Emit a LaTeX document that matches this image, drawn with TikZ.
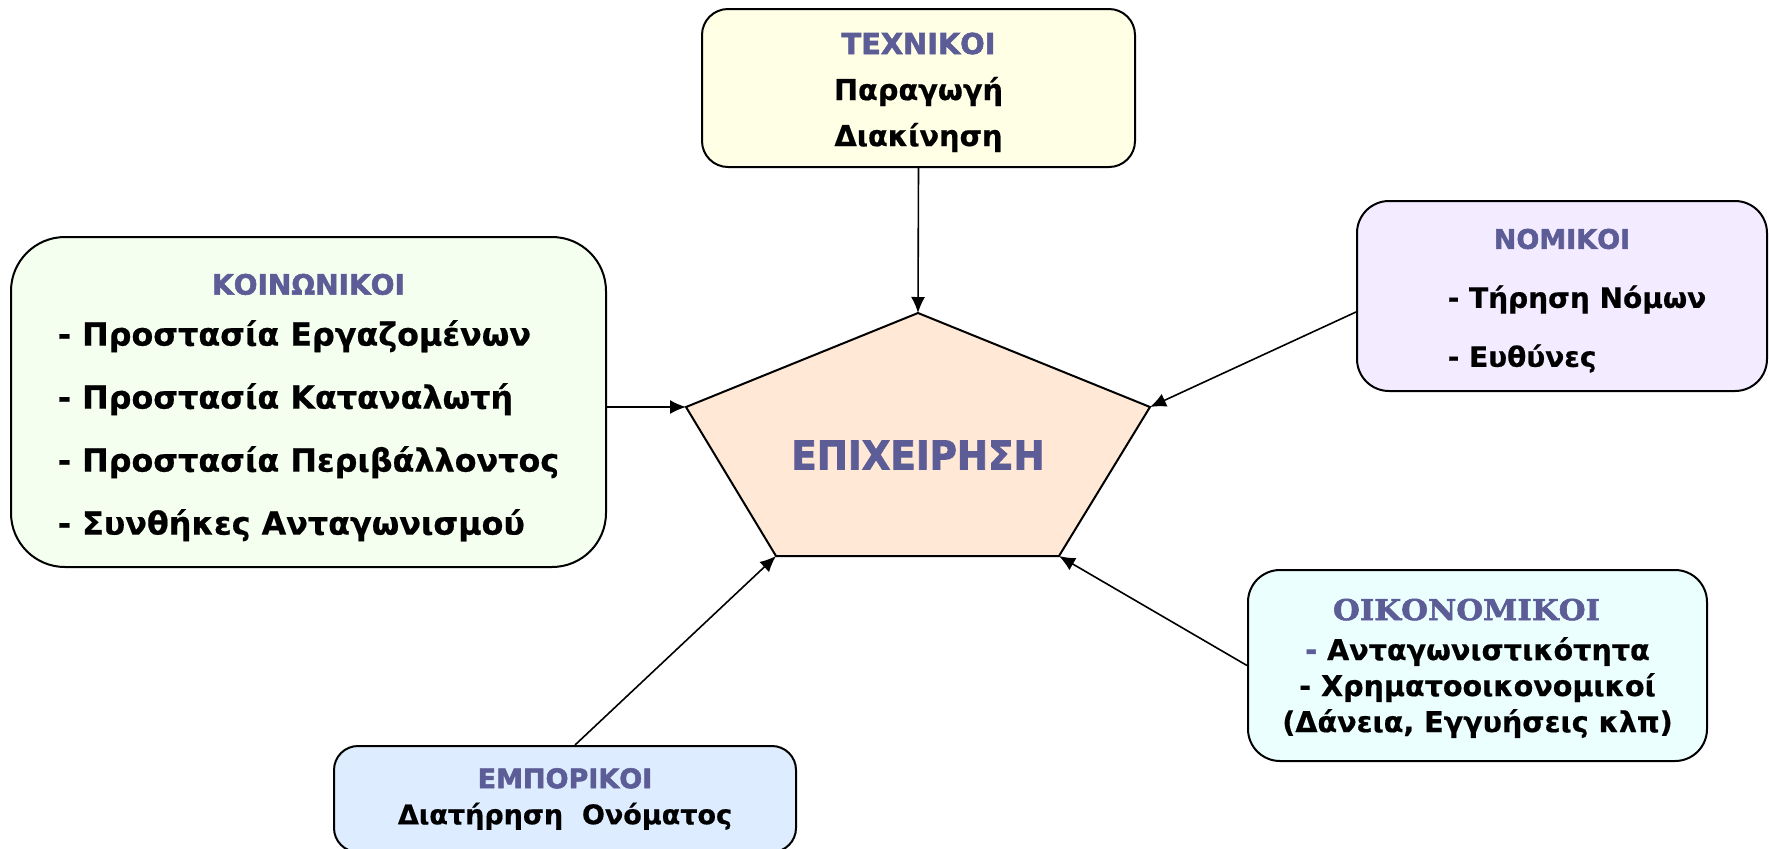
\documentclass[tikz,border=0pt]{standalone}
\usepackage{fontspec}
\setmainfont{DejaVu Sans}[BoldFeatures={FakeBold=0.6}]
\newfontface\headfont[FakeBold=2]{DejaVu Sans Bold}
\newfontface\firmfont[FakeBold=2, FakeStretch=0.93]{DejaVu Sans Bold}
\newfontface\headserif[FakeStretch=1.08, FakeBold=2]{DejaVu Serif Bold}
\usetikzlibrary{arrows.meta}
\definecolor{headblue}{RGB}{92,92,150}
\definecolor{techfill}{RGB}{255,255,230}
\definecolor{koinfill}{RGB}{244,255,240}
\definecolor{nomfill}{RGB}{243,235,255}
\definecolor{oikfill}{RGB}{235,255,255}
\definecolor{empfill}{RGB}{221,237,255}
\definecolor{firmfill}{RGB}{255,233,214}
\newcommand{\headtxt}[1]{{\headfont\textcolor{headblue}{#1}}}
\tikzset{box/.style = {draw, line width=1pt, inner sep=0pt, align=center},
         conn/.style = {line width=0.8pt, -{Latex[length=8pt,width=7pt]}}}

\begin{document}
\begin{tikzpicture}[x=0.5pt, y=-0.5pt]
  \useasboundingbox (0,0) rectangle (1769,848);

  % pentagon
  \coordinate (ptop) at (918,313);
  \coordinate (pleft) at (686,407);
  \coordinate (pright) at (1150,407);
  \coordinate (pbl) at (776,556);
  \coordinate (pbr) at (1059,556);
  \filldraw [fill=firmfill, line width=1pt, line join=miter]
    (ptop) -- (pright) -- (pbr) -- (pbl) -- (pleft) -- cycle;
  \node (firm) at (918,455)
    {\fontsize{20}{24}\firmfont\textcolor{headblue}{ΕΠΙΧΕΙΡΗΣΗ}};

  \node [box, fill=techfill, rounded corners=13pt, minimum width=216.5pt,
         minimum height=79pt, font=\fontsize{14.4}{23}\selectfont\bfseries]
    (tech) at (918.5,88) {\rule{0pt}{15pt}\headtxt{ΤΕΧΝΙΚΟΙ}\\Παραγωγή\\Διακίνηση};

  \node [box, fill=koinfill, rounded corners=27pt, minimum width=297.5pt,
         minimum height=165pt, font=\fontsize{15.9}{31.5}\selectfont\bfseries]
    (koin) at (308.5,402) {%
      \begin{tabular}{@{}l@{}}
        \multicolumn{1}{@{}c@{}}{\fontsize{14}{17}\selectfont\headtxt{ΚΟΙΝΩΝΙΚΟΙ}}\\[-6pt]
        - Προστασία Εργαζομένων\\
        - Προστασία Καταναλωτή\\
        - Προστασία Περιβάλλοντος\\
        - Συνθήκες Ανταγωνισμού
      \end{tabular}};

  \node [box, fill=nomfill, rounded corners=16pt, minimum width=205pt,
         minimum height=95pt, font=\fontsize{14}{29.5}\selectfont\bfseries]
    (nom) at (1562,296) {%
      \begin{tabular}{@{}l@{}}
        \multicolumn{1}{@{}c@{}}{\fontsize{13.5}{16}\selectfont\headtxt{ΝΟΜΙΚΟΙ}}\\
        \hspace*{15pt}- Τήρηση Νόμων\\
        \hspace*{15pt}- Ευθύνες
      \end{tabular}};

  \node [box, fill=oikfill, rounded corners=16pt, minimum width=229.5pt,
         minimum height=95.5pt, font=\fontsize{14.3}{18}\selectfont\bfseries]
    (oik) at (1477.5,665.5) {\rule{0pt}{13.5pt}{\headserif\textcolor{headblue}{ΟΙΚΟΝΟΜΙΚΟΙ}}\hspace*{11pt}\\[2pt]
      \headtxt{-} Ανταγωνιστικότητα\\- Χρηματοοικονομικοί\\(Δάνεια, Εγγυήσεις κλπ)};

  \node [box, fill=empfill, rounded corners=12pt, minimum width=231pt,
         minimum height=53pt, font=\fontsize{13.5}{18}\selectfont\bfseries]
    (emp) at (565,799) {\headtxt{ΕΜΠΟΡΙΚΟΙ}\\Διατήρηση\ \ Ονόματος};

  % connectors
  \draw [conn] (tech.south) -- (ptop);
  \draw [conn] (koin.east |- pleft) -- (pleft);
  \draw [conn] ([yshift=-8pt]nom.west) -- (pright);
  \draw [conn] (oik.west) -- (pbr);
  \draw [conn] ([xshift=5pt]emp.north) -- (pbl);
\end{tikzpicture}
\end{document}
